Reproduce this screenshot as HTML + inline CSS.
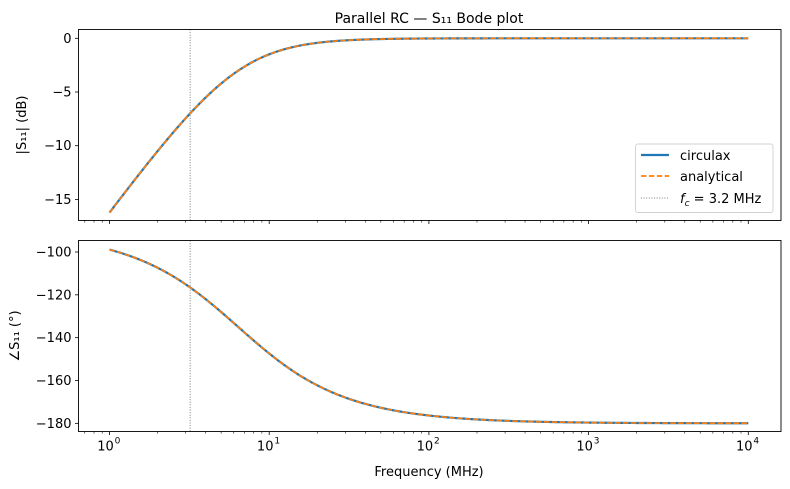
<!DOCTYPE html>
<html><head><meta charset="utf-8"><style>
body{margin:0;background:#fff}
svg{display:block;font-family:"DejaVu Sans","Liberation Sans",sans-serif}
</style></head><body>
<svg id="s" width="790" height="489" xmlns="http://www.w3.org/2000/svg">
<text x="429" y="23" font-size="14" text-anchor="middle" fill="#000">Parallel RC — S₁₁ Bode plot</text>
<g id="g"></g>
</svg>
<script>
const NS="http://www.w3.org/2000/svg",g=document.getElementById('g');
function el(t,a,txt){const e=document.createElementNS(NS,t);for(const k in a)e.setAttribute(k,a[k]);if(txt!=null)e.textContent=txt;g.appendChild(e);return e;}
const L=78.5,R=781,X0=109.5,D=159.7;
const X=f=>X0+D*Math.log10(f);
const T1=29.5,B1=220.5,T2=240.5,B2=431.5;
const Y1=v=>38.3-10.74*v;
const Y2=v=>252-2.142*(v+100);
const fc=3.2;
function mag(f){const x=f/fc;return 20*Math.log10(x/Math.sqrt(4+x*x));}
function ph(f){const x=f/fc;return -90-Math.atan(x/2)*180/Math.PI;}
function path(fn,Y){let d="";for(let i=0;i<=400;i++){const f=Math.pow(10,i/100);d+=(i?"L":"M")+X(f).toFixed(2)+","+Y(fn(f)).toFixed(2);}return d;}
[[T1,B1,Y1,mag,[0,-5,-10,-15],"|S₁₁| (dB)",false],[T2,B2,Y2,ph,[-100,-120,-140,-160,-180],"∠S₁₁ (°)",true]].forEach(([T,B,Y,fn,ticks,lab,bot])=>{
  el('line',{x1:X(fc),x2:X(fc),y1:T,y2:B,stroke:'#808080','stroke-width':1,'stroke-dasharray':'1,1.6'});
  el('path',{d:path(fn,Y),fill:'none',stroke:'#1f77b4','stroke-width':2.2});
  el('path',{d:path(fn,Y),fill:'none',stroke:'#ff7f0e','stroke-width':1.7,'stroke-dasharray':'5.5,2.4'});
  el('rect',{x:L,y:T,width:R-L,height:B-T,fill:'none',stroke:'#000','stroke-width':0.9});
  ticks.forEach(v=>{const y=Y(v);el('line',{x1:L-3.5,x2:L,y1:y,y2:y,stroke:'#000','stroke-width':0.8});
    el('text',{x:L-7,y:y+4.5,'font-size':'13','text-anchor':'end'},(v<0?'−':'')+Math.abs(v));});
  el('text',{x:0,y:0,'font-size':'13','text-anchor':'middle',transform:`translate(${bot?19:26},${(T+B)/2}) rotate(-90)`},lab);
  for(let e=0;e<=4;e++){for(let k=1;k<10;k++){const f=k*Math.pow(10,e);if(f>10000)break;const x=X(f);if(x<L)continue;
    el('line',{x1:x,x2:x,y1:B,y2:B+(k==1?3.5:2),stroke:'#000','stroke-width':k==1?0.8:0.6});}}
  for(let k=7;k<10;k++){const x=X(k/10);el('line',{x1:x,x2:x,y1:B,y2:B+2,stroke:'#000','stroke-width':0.6});}
  if(bot){for(let e=0;e<=4;e++){el('text',{x:X(Math.pow(10,e))-4,y:B+19,'font-size':'13','text-anchor':'middle'},'10');
    el('text',{x:X(Math.pow(10,e))+8,y:B+12,'font-size':'9','text-anchor':'middle'},String(e));}}
});
el('text',{x:429,y:476,'font-size':'13','text-anchor':'middle'},'Frequency (MHz)');
el('rect',{x:635.5,y:144,width:137.5,height:68.5,rx:2.5,fill:'#fff','fill-opacity':0.8,stroke:'#d0d0d0','stroke-width':0.9});
el('line',{x1:641,x2:669,y1:155,y2:155,stroke:'#1f77b4','stroke-width':2.2});
el('line',{x1:641,x2:669,y1:176,y2:176,stroke:'#ff7f0e','stroke-width':1.7,'stroke-dasharray':'5.5,2.4'});
el('line',{x1:641,x2:669,y1:198,y2:198,stroke:'#808080','stroke-width':1,'stroke-dasharray':'1,1.6'});
el('text',{x:680,y:160,'font-size':'13'},'circulax');
el('text',{x:680,y:181,'font-size':'13'},'analytical');
const t=el('text',{x:680,y:203,'font-size':'13'},'');
t.innerHTML='<tspan font-style="italic">f</tspan><tspan font-style="italic" font-size="9" dy="3">c</tspan><tspan dy="-3"> = 3.2 MHz</tspan>';
</script>
</body></html>
